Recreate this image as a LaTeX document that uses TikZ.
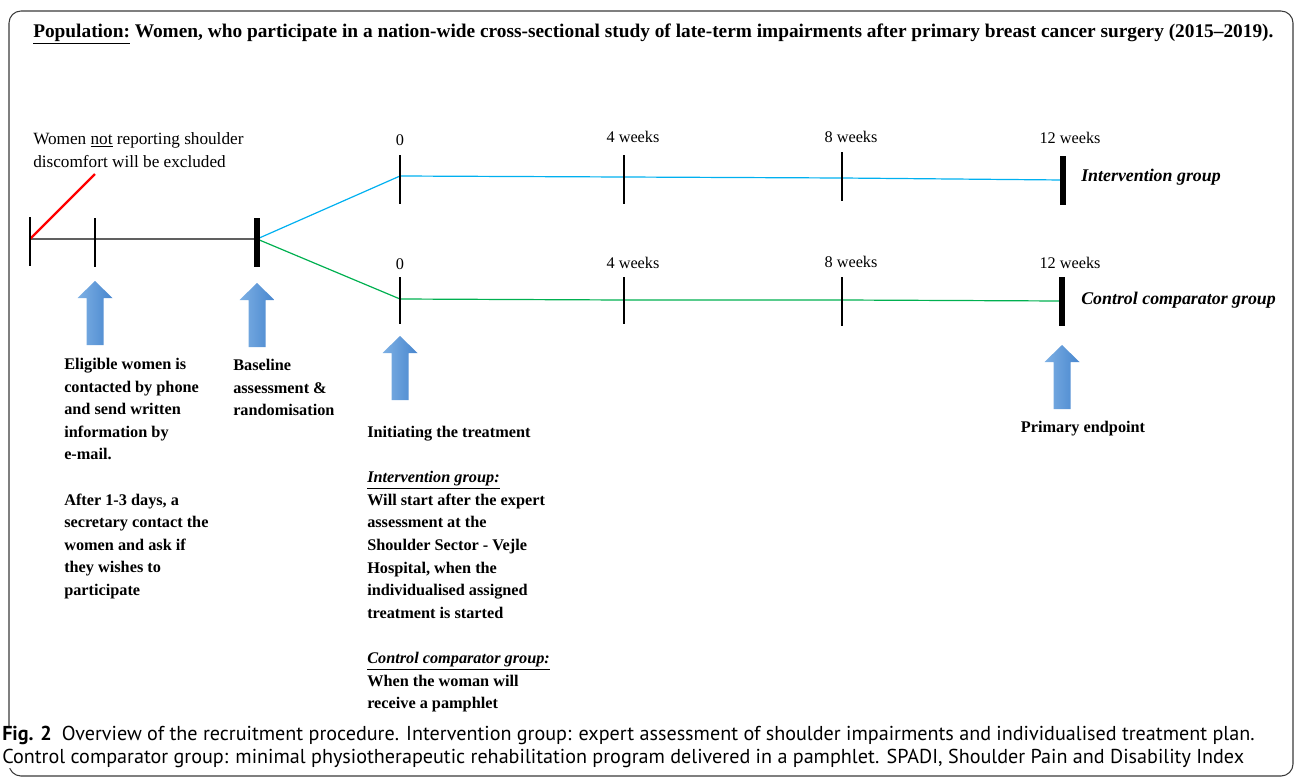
\documentclass[tikz,border=0pt]{standalone}
\usepackage{fontspec}
\setmainfont{Liberation Serif}
\newfontfamily\capfont{PT Sans}
\usetikzlibrary{positioning}

\definecolor{arrowblue}{HTML}{4886CE}
\definecolor{arrowlight}{HTML}{7DB0E4}
\definecolor{armcyan}{HTML}{00B0F0}
\definecolor{armgreen}{HTML}{00B050}
\definecolor{framegray}{HTML}{3A3A3A}

\tikzset{
  boldtext/.style={font=\fontsize{12.2}{16.95}\selectfont\bfseries, align=left, inner sep=0pt, anchor=north west},
  plaintext/.style={font=\fontsize{12.2}{14}\selectfont, inner sep=0pt},
  armlabel/.style={font=\fontsize{13.4}{15}\selectfont\bfseries\itshape, inner sep=0pt, anchor=west},
  thinbar/.style={line width=1.7pt},
  thickbar/.style={line width=3.8pt},
}

\begin{document}
\begin{tikzpicture}[x=0.75pt, y=-0.75pt]
\useasboundingbox (0,0) rectangle (1296,778);
\draw[framegray, line width=0.8pt, rounded corners=9pt] (9,11) rectangle (1293,776);
% title
\node[anchor=west, inner sep=0pt, font=\fontsize{14.5}{16}\selectfont\bfseries] (title) at (33,34)
  {\underline{Population:} Women, who participate in a nation-wide cross-sectional study of late-term impairments after primary breast cancer surgery (2015--2019).};

% time points
\coordinate (start) at (30,239);
\coordinate (contact) at (95,239);
\coordinate (rand) at (257,239);
\coordinate (i0) at (400,176);
\coordinate (i4) at (624,177);
\coordinate (i8) at (842,178);
\coordinate (i12) at (1063,180);
\coordinate (c0) at (400,299);
\coordinate (c4) at (624,300);
\coordinate (c8) at (842,300);
\coordinate (c12) at (1062,301);
\coordinate (excl) at (95,174);

% arms
\draw[gray!75!black, line width=1.2pt] (start) -- (rand);
\draw[red, line width=1.6pt] (start) -- (excl);
\draw[armcyan, line width=0.9pt] (rand) -- (i0) -- (i4) -- (i8) -- (i12);
\draw[armgreen, line width=0.9pt] (rand) -- (c0) -- (c4) -- (c8) -- (c12);

% ticks
\foreach \x/\t/\b in {30/217/266, 95/218/267, 400/155/204, 624/155/204, 842/152/201, 400/277/324, 624/277/324, 842/277/326}
  \draw[thinbar] (\x,\t) -- (\x,\b);
\foreach \x/\t/\b in {257/218/267, 1063/156/205, 1062/277/326}
  \draw[thickbar] (\x,\t) -- (\x,\b);

% week labels
\foreach \x/\y/\w [count=\i] in {400/140/0, 633/137/4 weeks, 851/137/8 weeks, 1070/138/12 weeks}
  \node[plaintext] (top\i) at (\x,\y) {\w};
\foreach \x/\y/\w [count=\i] in {400/264/0, 633/263/4 weeks, 851/262/8 weeks, 1070/263/12 weeks}
  \node[plaintext] (bot\i) at (\x,\y) {\w};
\node[armlabel] (intlabel) at (1081,177) {Intervention group};
\node[armlabel] (conlabel) at (1081,300) {Control comparator group};

% exclusion note
\node[plaintext, font=\fontsize{12.9}{17.3}\selectfont, align=left, anchor=north west] (note) at (33,132)
  {Women \underline{not} reporting shoulder\\discomfort will be excluded};

% block arrows
\foreach \x/\t in {95/281, 257/283, 400/336, 1062/345}
  \shade[left color=arrowlight, right color=arrowblue]
    (\x-8.5,\t+64) -- (\x-8.5,\t+17) -- (\x-17.5,\t+17) -- (\x,\t) -- (\x+17.5,\t+17)
    -- (\x+8.5,\t+17) -- (\x+8.5,\t+64) -- cycle;

% text blocks
\node[boldtext] (elig) at (64,358)
  {Eligible women is\\contacted by phone\\and send written\\information by\\e-mail.\\[16.95pt]
   After 1-3 days, a\\secretary contact the\\women and ask if\\they wishes to\\participate};
\node[boldtext] (base) at (233,359) {Baseline\\assessment \&\\randomisation};
\node[boldtext] (init) at (367,426)
  {Initiating the treatment\\[16.95pt]
   \textit{\underline{Intervention group:}}\\Will start after the expert\\assessment at the\\Shoulder Sector - Vejle\\Hospital, when the\\individualised assigned\\treatment is started\\[16.95pt]
   \textit{\underline{Control comparator group:}}\\When the woman will\\receive a pamphlet};
\node[boldtext, anchor=center] (endpoint) at (1083,429) {Primary endpoint};

% caption
\node[anchor=north west, inner sep=0pt, fill=white, align=left, font=\capfont\fontsize{15.1}{17.3}\selectfont] (caption) at (2,726)
  {\textbf{Fig. 2}\enspace Overview of the recruitment procedure. Intervention group: expert assessment of shoulder impairments and individualised treatment plan.\\
   Control comparator group: minimal physiotherapeutic rehabilitation program delivered in a pamphlet. SPADI, Shoulder Pain and Disability Index};
\end{tikzpicture}
\end{document}
